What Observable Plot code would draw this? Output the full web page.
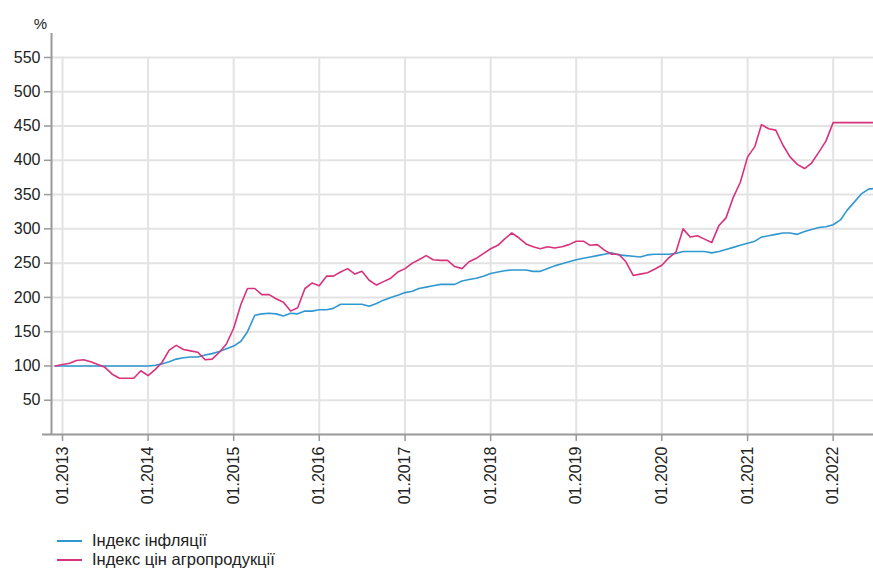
<!DOCTYPE html>
<html><head><meta charset="utf-8">
<script src="https://cdn.jsdelivr.net/npm/d3@7"></script>
<script src="https://cdn.jsdelivr.net/npm/@observablehq/plot@0.6"></script>
<style>
body{margin:0;background:#fff;font-family:"Liberation Sans",Arial,sans-serif;}
#wrap{position:relative;width:873px;height:568px;overflow:hidden;background:#fff;}
#legend{position:absolute;left:57px;top:531px;font-size:16.5px;color:#222;}
.row{display:flex;align-items:center;height:19px;white-space:nowrap;}
.sw{width:25px;height:2px;margin-right:10px;}
</style></head><body><div id="wrap"><div id="chart"></div><div id="legend"></div></div>
<script>
// Monthly values, 12.2012 .. 07.2022
const inflation = [
  100,100,100,100,100,100,100,100,100,100,100,100,100,100,101,103,106,110,112,113,113,116,118,121,125,
  129,136,150,174,176,177,176,173,177,176,180,180,182,182,184,190,190,190,190,187,191,196,200,
  203,207,209,213,215,217,219,219,219,224,226,228,231,235,237,239,240,240,240,238,238,242,246,249,
  252,255,257,259,261,263,265,262,261,260,259,262,263,263,263,264,267,267,267,267,265,267,270,273,
  276,279,282,288,290,292,294,294,292,296,299,302,303,306,313,327,339,351,358,359
];
const agro = [
  100,102,104,108,109,106,102,98,88,82,82,82,93,86,95,105,123,130,124,122,120,109,110,120,132,
  155,190,213,213,204,204,198,193,180,185,213,221,217,231,231,237,242,234,238,225,218,223,228,
  237,242,250,255,261,255,254,254,245,242,252,257,264,271,276,285,294,287,278,274,271,274,272,274,
  277,282,282,276,277,269,263,263,252,232,234,236,241,247,258,266,300,288,290,285,280,305,316,346,
  368,405,420,452,446,444,422,405,394,388,396,412,428,455,455,455,455,455,455,455
];
const seriesNames = ["Індекс інфляції", "Індекс цін агропродукції"];
const seriesColors = ["#3098d0", "#d8327c"];
const yTicks = [50,100,150,200,250,300,350,400,450,500,550];
const yearTicks = d3.utcYears(new Date(Date.UTC(2013,0,1)), new Date(Date.UTC(2022,0,2)));
const months = d3.utcMonth.range(new Date(Date.UTC(2012,11,1)), new Date(Date.UTC(2022,7,1)));

const infRows = months.map((d,i)=>({date:d, value:inflation[i]}));
const agroRows = months.map((d,i)=>({date:d, value:agro[i]}));

const xLeft = new Date(Date.UTC(2012,10,15));
const xRight = new Date(Date.UTC(2022,5,22));
const xAxisStart = new Date(Date.UTC(2012,9,8));

const plot = Plot.plot({
  width: 873,
  height: 525,
  marginLeft: 51,
  marginRight: 0,
  marginTop: 33,
  marginBottom: 91,
  style: {fontFamily: "Liberation Sans, Arial, sans-serif", color: "#222", background: "white"},
  x: {type: "utc", domain: [xLeft, xRight]},
  y: {domain: [0, 585]},
  marks: [
    Plot.gridY(yTicks, {stroke: "#e3e3e3", strokeOpacity: 1, strokeWidth: 2}),
    Plot.gridX(yearTicks, {stroke: "#e3e3e3", strokeOpacity: 1, strokeWidth: 2, y1: 0, y2: 550}),
    Plot.axisY({ticks: yTicks, tickSize: 7, tickPadding: 4, fontSize: 16, label: null, stroke: "#999", strokeWidth: 1.5}),
    Plot.axisX({ticks: yearTicks, tickFormat: d => "01." + d.getUTCFullYear(), tickRotate: -90, tickSize: 7, tickPadding: 5, fontSize: 16, label: null, stroke: "#999", strokeWidth: 1.5}),
    Plot.ruleX([xLeft], {y1: 0, y2: 585, stroke: "#999", strokeWidth: 2}),
    Plot.ruleY([0], {x1: () => xAxisStart, x2: () => xRight, stroke: "#999", strokeWidth: 2, clip: false}),
    Plot.lineY(infRows, {x: "date", y: "value", stroke: seriesColors[0], strokeWidth: 1.6, clip: true}),
    Plot.lineY(agroRows, {x: "date", y: "value", stroke: seriesColors[1], strokeWidth: 1.6, clip: true}),
    Plot.text(["%"], {text: d => d, frameAnchor: "top-left", dx: -11, dy: -5, fontSize: 15, lineAnchor: "bottom", textAnchor: "middle"})
  ]
});
document.getElementById("chart").appendChild(plot);

const legend = document.getElementById("legend");
seriesNames.forEach((n,i)=>{
  const row = document.createElement("div");
  row.className = "row";
  const sw = document.createElement("span");
  sw.className = "sw";
  sw.style.background = seriesColors[i];
  const t = document.createElement("span");
  t.textContent = n;
  row.appendChild(sw); row.appendChild(t);
  legend.appendChild(row);
});
</script></body></html>
